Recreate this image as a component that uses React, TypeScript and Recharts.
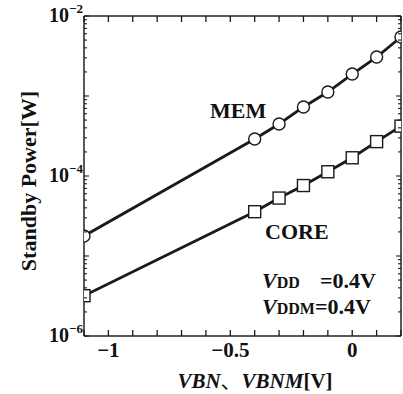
import React from 'react';
import { LineChart, Line, XAxis, YAxis } from 'recharts';

// V_BN / V_BNM sweep [V]
const biasVoltage = [-1.1, -0.4, -0.3, -0.2, -0.1, 0, 0.1, 0.2];
// standby power [W]
const memPower = [1.78e-5, 2.9e-4, 4.47e-4, 7.3e-4, 1.12e-3, 1.88e-3, 3.07e-3, 5.46e-3];
const corePower = [3.19e-6, 3.58e-5, 5.3e-5, 7.6e-5, 1.13e-4, 1.69e-4, 2.69e-4, 4.2e-4];

const xTicks = [-1.1, -1, -0.9, -0.8, -0.7, -0.6, -0.5, -0.4, -0.3, -0.2, -0.1, 0, 0.1, 0.2];
const xTickLabels: Record<string, string> = { '-1': '\u22121', '-0.5': '\u22120.5', '0': '0' };

const decades = [-6, -5, -4, -3];
const mantissas = [1, 2, 3, 4, 5, 6, 7, 8, 9];
const yTicks = [...decades.flatMap((d) => mantissas.map((m) => m * Math.pow(10, d))), 1e-2];
const yTickLabels: Record<string, string> = { '-2': '\u22122', '-4': '\u22124', '-6': '\u22126' };

const data = biasVoltage.map((v, i) => ({ v, mem: memPower[i], core: corePower[i] }));

const W = 403;
const H = 394;
const margin = { top: 15, right: 1, bottom: 57, left: 83 };
const font = '"Liberation Serif", "Times New Roman", serif';
const ink = '#1a1a1a';

const decadeOf = (value: number) => {
  const l = Math.log10(value);
  return Math.abs(l - Math.round(l)) < 1e-6 ? Math.round(l) : null;
};

const BottomTick = (props: any) => {
  const { x, y, payload } = props;
  const key = String(Math.round(payload.value * 10) / 10);
  const label = xTickLabels[key];
  return (
    <g>
      <line x1={x} y1={y} x2={x} y2={y - 6} stroke={ink} strokeWidth={1.3} />
      {label && (
        <text x={x} y={y + 21} textAnchor="middle" fontFamily={font} fontWeight="bold" fontSize={21} fill="#111">
          {label}
        </text>
      )}
    </g>
  );
};

const TopTick = (props: any) => {
  const { x, y } = props;
  return <line x1={x} y1={y} x2={x} y2={y + 6} stroke={ink} strokeWidth={1.3} />;
};

const LeftTick = (props: any) => {
  const { x, y, payload } = props;
  const d = decadeOf(payload.value);
  const label = d !== null ? yTickLabels[String(d)] : undefined;
  return (
    <g>
      <line x1={x} y1={y} x2={x + (d !== null ? 5 : 3)} y2={y} stroke={ink} strokeWidth={1.1} />
      {label && (
        <text x={x - 1} y={y + 6} textAnchor="end" fontFamily={font} fontWeight="bold" fontSize={20} fill="#111">
          10
          <tspan dy={-9} fontSize={13}>{label}</tspan>
        </text>
      )}
    </g>
  );
};

const RightTick = (props: any) => {
  const { x, y, payload } = props;
  const d = decadeOf(payload.value);
  return <line x1={x} y1={y} x2={x - (d !== null ? 5 : 3)} y2={y} stroke={ink} strokeWidth={1.1} />;
};

const CircleDot = (props: any) => {
  const { cx, cy, index } = props;
  return <circle key={index} cx={cx} cy={cy} r={6} fill="#fff" stroke={ink} strokeWidth={1.4} />;
};

const SquareDot = (props: any) => {
  const { cx, cy, index } = props;
  return <rect key={index} x={cx - 6} y={cy - 6} width={12} height={12} fill="#fff" stroke={ink} strokeWidth={1.4} />;
};

const axisLine = { stroke: '#222', strokeWidth: 1.5 };

export default function App() {
  return (
    <div style={{ position: 'absolute', left: 0, top: 0, width: W, height: H, background: '#fff' }}>
      <LineChart width={W} height={H} data={data} margin={margin}>
        <XAxis
          xAxisId="bottom"
          dataKey="v"
          type="number"
          domain={[-1.1, 0.2]}
          ticks={xTicks}
          interval={0}
          height={1}
          tickSize={0}
          tickMargin={0}
          tickLine={false}
          axisLine={axisLine}
          tick={<BottomTick />}
          allowDataOverflow
        />
        <XAxis
          xAxisId="top"
          orientation="top"
          dataKey="v"
          type="number"
          domain={[-1.1, 0.2]}
          ticks={xTicks}
          interval={0}
          height={1}
          tickSize={0}
          tickMargin={0}
          tickLine={false}
          axisLine={axisLine}
          tick={<TopTick />}
          allowDataOverflow
        />
        <YAxis
          yAxisId="left"
          scale="log"
          type="number"
          domain={[1e-6, 1e-2]}
          ticks={yTicks}
          interval={0}
          width={1}
          tickSize={0}
          tickMargin={0}
          tickLine={false}
          axisLine={axisLine}
          tick={<LeftTick />}
          allowDataOverflow
        />
        <YAxis
          yAxisId="right"
          orientation="right"
          scale="log"
          type="number"
          domain={[1e-6, 1e-2]}
          ticks={yTicks}
          interval={0}
          width={1}
          tickSize={0}
          tickMargin={0}
          tickLine={false}
          axisLine={axisLine}
          tick={<RightTick />}
          allowDataOverflow
        />
        <Line
          xAxisId="bottom"
          yAxisId="left"
          dataKey="mem"
          type="linear"
          stroke={ink}
          strokeWidth={2.8}
          dot={<CircleDot />}
          isAnimationActive={false}
        />
        <Line
          xAxisId="bottom"
          yAxisId="left"
          dataKey="core"
          type="linear"
          stroke={ink}
          strokeWidth={2.8}
          dot={<SquareDot />}
          isAnimationActive={false}
        />
      </LineChart>
      <svg
        width={W}
        height={H}
        style={{ position: 'absolute', left: 0, top: 0, pointerEvents: 'none' }}
        fontFamily={font}
        fontWeight="bold"
        fill="#111"
      >
        <text x={36} y={181} fontSize={22} textAnchor="middle" transform="rotate(-90 36 181)">
          Standby Power[W]
        </text>
        <text x={255} y={388} fontSize={21} textAnchor="middle">
          <tspan fontStyle="italic">VBN</tspan>
          <tspan fontFamily='"Noto Sans CJK JP", sans-serif' fontWeight="normal">、</tspan>
          <tspan fontStyle="italic">VBNM</tspan>
          <tspan>[V]</tspan>
        </text>
        <text x={210} y={118} fontSize={22}>MEM</text>
        <text x={265} y={239} fontSize={22}>CORE</text>
        <text x={262} y={288} fontSize={22}>
          <tspan fontStyle="italic">V</tspan>
          <tspan fontSize={16}>DD</tspan>
        </text>
        <text x={320} y={288} fontSize={22}>=0.4V</text>
        <text x={262} y={314} fontSize={22}>
          <tspan fontStyle="italic">V</tspan>
          <tspan fontSize={16}>DDM</tspan>
          <tspan>=0.4V</tspan>
        </text>
      </svg>
    </div>
  );
}
